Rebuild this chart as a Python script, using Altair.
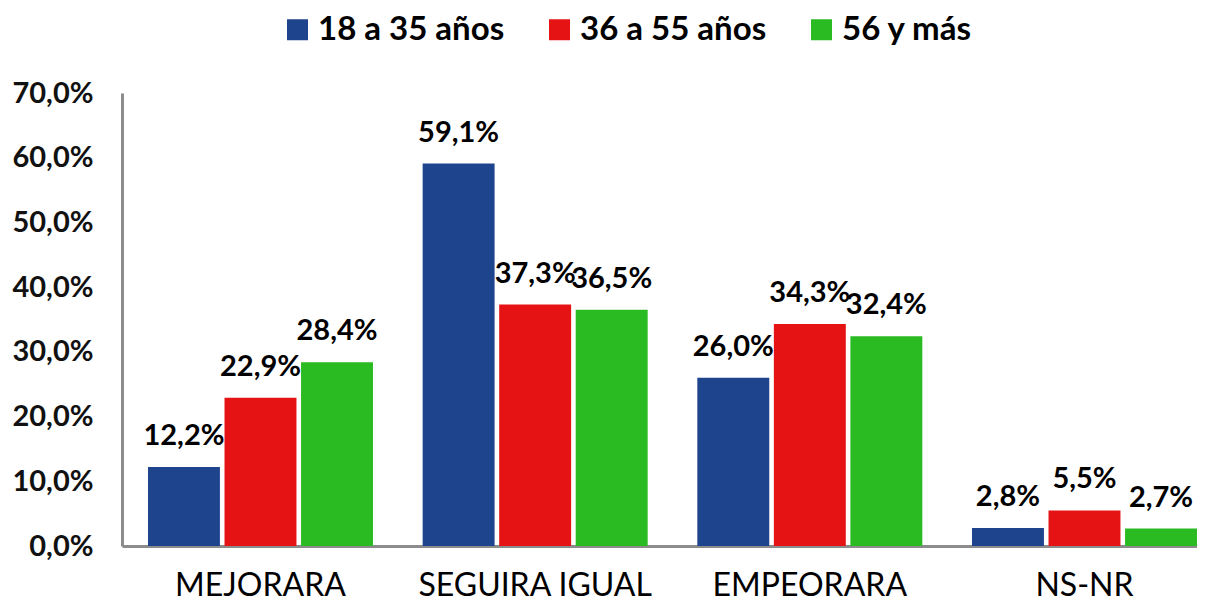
import altair as alt
import pandas as pd

categories = ["MEJORARA", "SEGUIRA IGUAL", "EMPEORARA", "NS-NR"]
groups = ["18 a 35 años", "36 a 55 años", "56 y más"]
v_18_35 = [12.2, 59.1, 26.0, 2.8]
v_36_55 = [22.9, 37.3, 34.3, 5.5]
v_56 = [28.4, 36.5, 32.4, 2.7]
colors = ["#1F448E", "#E51314", "#2ABB23"]
y_ticks = [0, 10, 20, 30, 40, 50, 60, 70]

rows = []
for g, vals in zip(groups, [v_18_35, v_36_55, v_56]):
    for c, v in zip(categories, vals):
        rows.append({"cat": c, "grp": g, "val": v,
                     "lbl": f"{v:.1f}".replace(".", ",") + "%"})
df = pd.DataFrame(rows)

FONT = "Lato"

x_enc = alt.X("cat:N", sort=categories,
              scale=alt.Scale(paddingInner=0.1808, paddingOuter=0.0473, align=1.0),
              axis=alt.Axis(title=None, labelAngle=0, labelFont=FONT, labelFontSize=32,
                            labelFontWeight="normal", labelColor="#000000", labelLimit=0,
                            labelBaseline="alphabetic", labelPadding=49, ticks=False,
                            domainColor="#8C8C8C", domainWidth=3))
xo_enc = alt.XOffset("grp:N", sort=groups, scale=alt.Scale(paddingInner=0.06, paddingOuter=0))
y_enc = alt.Y("val:Q", scale=alt.Scale(domain=[0, 70], nice=False),
              axis=alt.Axis(title=None, values=y_ticks, grid=False, ticks=False,
                            labelExpr="replace(format(datum.value, '.1f'), '.', ',') + '%'",
                            labelFont=FONT, labelFontSize=29, labelFontWeight="bold",
                            labelColor="#111111", labelPadding=29, labelLimit=0,
                            domainColor="#8C8C8C", domainWidth=3))

bars = alt.Chart(df).mark_bar().encode(
    x=x_enc, xOffset=xo_enc, y=y_enc,
    color=alt.Color("grp:N", sort=groups,
                    scale=alt.Scale(domain=groups, range=colors),
                    legend=alt.Legend(title=None, orient="none", direction="horizontal",
                                      legendX=159, legendY=-80, symbolType="square",
                                      symbolSize=441, symbolStrokeWidth=0,
                                      labelFont=FONT, labelFontSize=33, labelLimit=0,
                                      labelFontWeight="bold", labelColor="#000000",
                                      labelOffset=4, columnPadding=38))
)

texts = alt.Chart(df).mark_text(font=FONT, fontSize=29, fontWeight="bold",
                                color="#000000", baseline="alphabetic", dy=-22).encode(
    x=alt.X("cat:N", sort=categories), xOffset=alt.XOffset("grp:N", sort=groups),
    y="val:Q", text="lbl:N"
)

chart = (bars + texts).properties(
    width=1075, height=453,
    background="#FFFFFF",
    autosize=alt.AutoSizeParams(type="none"),
    padding={"left": 114, "top": 85, "right": 0, "bottom": 56},
).configure_view(strokeWidth=0)

chart.save("out.html", embed_options={"renderer": "svg", "actions": False})
